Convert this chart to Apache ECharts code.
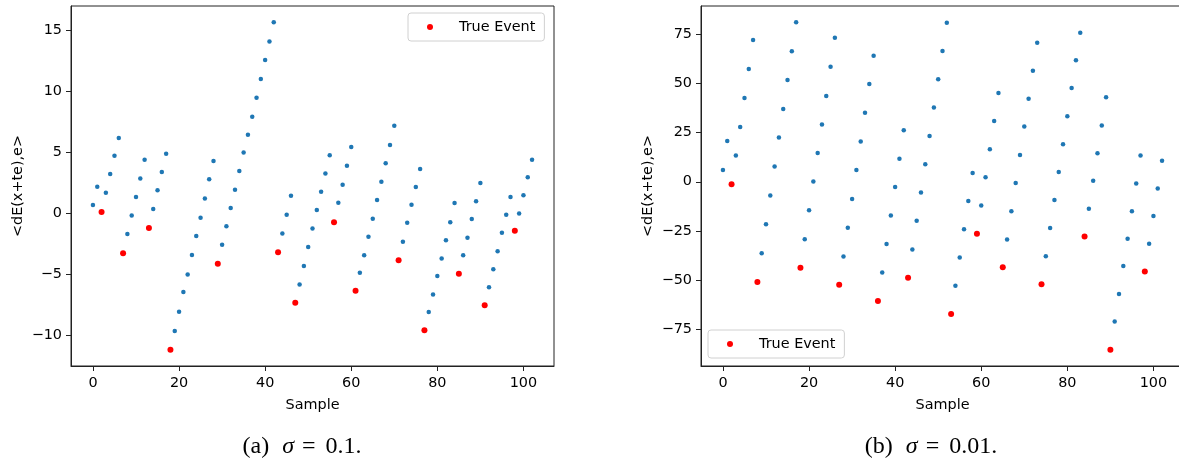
<!DOCTYPE html>
<html>
<head>
<meta charset="utf-8">
<script src="https://cdn.jsdelivr.net/npm/echarts@6/dist/echarts.min.js"></script>
<style>
  html, body { margin: 0; padding: 0; background: #fff; }
</style>
</head>
<body>
<div id="chart" style="width: 1179px; height: 464px;"></div>
<script>
  // (a) sigma = 0.1
  const samplesA = [
    0.66, 2.16, 0.08, 1.67, 3.2, 4.7, 6.15, -3.3, -1.72, -0.21,
    1.31, 2.84, 4.37, -1.23, 0.33, 1.86, 3.36, 4.86, -11.2, -9.67,
    -8.09, -6.48, -5.05, -3.44, -1.89, -0.38, 1.18, 2.76, 4.26, -4.15,
    -2.6, -1.09, 0.41, 1.91, 3.44, 4.97, 6.42, 7.9, 9.45, 10.98,
    12.54, 14.07, 15.63, -3.22, -1.67, -0.15, 1.42, -7.35, -5.87, -4.34,
    -2.79, -1.27, 0.25, 1.75, 3.25, 4.73, -0.75, 0.85, 2.32, 3.88,
    5.41, -6.37, -4.89, -3.47, -1.94, -0.46, 1.07, 2.57, 4.07, 5.57,
    7.16, -3.88, -2.35, -0.79, 0.68, 2.13, 3.61, -9.62, -8.11, -6.67,
    -5.16, -3.72, -2.24, -0.76, 0.82, -4.97, -3.47, -2.02, -0.49, 0.96,
    2.46, -7.57, -6.09, -4.62, -3.14, -1.61, -0.15, 1.31, -1.45, -0.04,
    1.45, 2.93, 4.37
  ];
  const eventsA = [2, 7, 13, 18, 29, 43, 47, 56, 61, 71, 77, 85, 91, 98];

  // (b) sigma = 0.01
  const samplesB = [
    6.0, 20.7, -1.2, 13.3, 27.8, 42.5, 57.2, 71.8, -50.8, -36.3,
    -21.5, -7.0, 7.7, 22.4, 36.9, 51.6, 66.1, 80.8, -43.6, -29.1,
    -14.4, 0.1, 14.6, 29.0, 43.5, 58.3, 73.0, -52.2, -37.9, -23.3,
    -8.7, 5.9, 20.4, 35.0, 49.6, 63.9, -60.5, -46.0, -31.6, -17.1,
    -2.7, 11.7, 26.1, -48.7, -34.3, -19.8, -5.5, 8.9, 23.2, 37.6,
    51.9, 66.3, 80.6, -67.0, -52.7, -38.4, -24.1, -9.8, 4.4, -26.4,
    -12.0, 2.3, 16.5, 30.8, 45.0, -43.4, -29.3, -14.9, -0.6, 13.6,
    28.0, 42.1, 56.3, 70.5, -51.9, -37.7, -23.5, -9.3, 4.9, 19.0,
    33.2, 47.5, 61.6, 75.5, -27.7, -13.7, 0.5, 14.5, 28.5, 42.8,
    -85.1, -70.9, -56.9, -42.7, -28.9, -14.9, -0.9, 13.3, -45.5, -31.4,
    -17.4, -3.4, 10.7
  ];
  const eventsB = [2, 8, 18, 27, 36, 43, 53, 59, 65, 74, 84, 90, 98];

  const xTicks = [0, 20, 40, 60, 80, 100];
  const yTicksA = [-10, -5, 0, 5, 10, 15];
  const yTicksB = [-75, -50, -25, 0, 25, 50, 75];

  const FONT = 'DejaVu Sans';
  const FS = 14.4;
  const SPINE = '#222';

  const minus = v => String(v).replace('-', '\u2212');

  // matplotlib style 5% margins
  function padRange(arr) {
    const lo = Math.min(...arr), hi = Math.max(...arr);
    const p = (hi - lo) * 0.05;
    return [lo - p, hi + p];
  }
  const xr = padRange([0, samplesA.length - 1]);
  const yrA = padRange(samplesA);
  const yrB = padRange(samplesB);

  function xAxisOf(grid) {
    return {
      type: 'value', gridIndex: grid, min: xr[0], max: xr[1],
      name: 'Sample', nameLocation: 'middle', nameGap: 32,
      nameTextStyle: { fontFamily: FONT, fontSize: FS, color: '#000' },
      axisLine: { show: true, onZero: false, lineStyle: { color: SPINE, width: 1 } },
      axisTick: { show: true, length: 5, customValues: xTicks, lineStyle: { color: SPINE } },
      axisLabel: { customValues: xTicks, margin: 10, fontFamily: FONT, fontSize: FS, color: '#000' },
      splitLine: { show: false }
    };
  }
  function yAxisOf(grid, range, ticks) {
    return {
      type: 'value', gridIndex: grid, min: range[0], max: range[1],
      name: '<dE(x+te),e>', nameLocation: 'middle', nameGap: 46,
      nameTextStyle: { fontFamily: FONT, fontSize: FS, color: '#000' },
      axisLine: { show: true, onZero: false, lineStyle: { color: SPINE, width: 1 } },
      axisTick: { show: true, length: 5, customValues: ticks, lineStyle: { color: SPINE } },
      axisLabel: { customValues: ticks, margin: 9, fontFamily: FONT, fontSize: FS, color: '#000',
                   formatter: minus },
      splitLine: { show: false }
    };
  }
  function legendAt(left, top) {
    return {
      data: ['True Event'], left: left, top: top, orient: 'vertical',
      icon: 'circle', itemWidth: 6, itemHeight: 6,
      padding: [6, 9, 6, 19],
      borderColor: '#d0d0d0', borderWidth: 1, borderRadius: 3,
      backgroundColor: 'rgba(255,255,255,0.8)',
      formatter: name => '{g| }' + name,
      textStyle: { fontFamily: FONT, fontSize: FS, color: '#000', lineHeight: 16,
                   rich: { g: { width: 21, fontSize: FS } } },
      selectedMode: false
    };
  }
  function caption(x, tag, sig) {
    return {
      type: 'text', x: x, y: 447,
      style: {
        text: '{n|' + tag + '}{s|σ}{e|=}{n|' + sig + '}',
        align: 'center', verticalAlign: 'middle',
        rich: {
          n: { fontFamily: 'Liberation Serif', fontSize: 24, fill: '#000' },
          s: { fontFamily: 'Liberation Serif', fontSize: 24, fontStyle: 'italic', fill: '#000', padding: [0, 8, 0, 13] },
          e: { fontFamily: 'Liberation Serif', fontSize: 24, fill: '#000', padding: [0, 10, 0, 0] }
        }
      }
    };
  }

  const chart = echarts.init(document.getElementById('chart'));
  chart.setOption({
    animation: false,
    grid: [
      { left: 71, right: 625, top: 6, bottom: 98, show: true, borderColor: SPINE, borderWidth: 1, outerBoundsMode: 'none' },
      { left: 701, right: -5, top: 6, bottom: 98, show: true, borderColor: SPINE, borderWidth: 1, outerBoundsMode: 'none' }
    ],
    xAxis: [xAxisOf(0), xAxisOf(1)],
    yAxis: [yAxisOf(0, yrA, yTicksA), yAxisOf(1, yrB, yTicksB)],
    legend: [legendAt(408, 13), legendAt(708, 330)],
    series: [
      { name: 'Samples', type: 'scatter', xAxisIndex: 0, yAxisIndex: 0, symbolSize: 4.5,
        itemStyle: { color: '#1f77b4', opacity: 1 }, data: samplesA.map((v, i) => [i, v]) },
      { name: 'True Event', type: 'scatter', xAxisIndex: 0, yAxisIndex: 0, symbolSize: 6,
        itemStyle: { color: '#ff0000', opacity: 1 }, data: eventsA.map(i => [i, samplesA[i]]) },
      { name: 'Samples', type: 'scatter', xAxisIndex: 1, yAxisIndex: 1, symbolSize: 4.5,
        itemStyle: { color: '#1f77b4', opacity: 1 }, data: samplesB.map((v, i) => [i, v]) },
      { name: 'True Event', type: 'scatter', xAxisIndex: 1, yAxisIndex: 1, symbolSize: 6,
        itemStyle: { color: '#ff0000', opacity: 1 }, data: eventsB.map(i => [i, samplesB[i]]) }
    ],
    graphic: [caption(302, '(a)', '0.1.'), caption(931, '(b)', '0.01.')]
  });
</script>
</body>
</html>
